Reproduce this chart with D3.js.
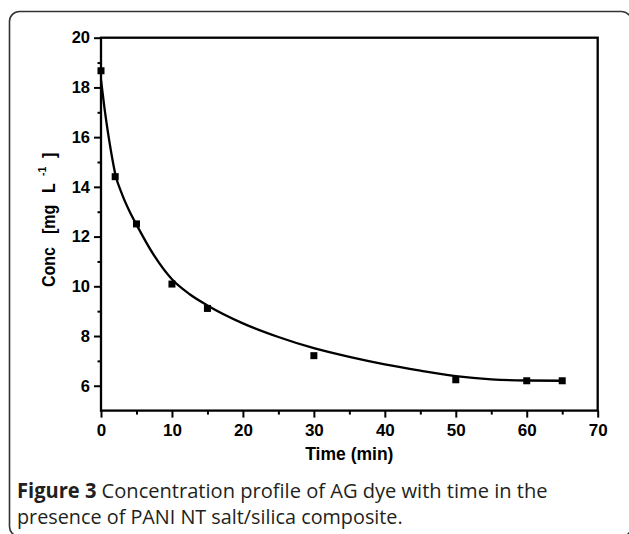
<!DOCTYPE html>
<html>
<head>
<meta charset="utf-8">
<script src="https://cdn.jsdelivr.net/npm/d3@7"></script>
<style>
  html, body { margin: 0; padding: 0; background: #fff; }
  svg { display: block; }
</style>
</head>
<body>
<script>
// ---- data ----
const timeMin = [0, 2, 5, 10, 15, 30, 50, 60, 65];
const concMeasured = [18.67, 14.41, 12.51, 10.09, 9.11, 7.21, 6.24, 6.20, 6.20];

const fitTime = [0, 0.5, 1, 1.5, 2, 3, 4, 5, 7.5, 10, 12.5, 15, 20, 25, 30, 35, 40, 45, 50, 55, 60, 65];
const fitConc = [18.3, 17.15, 16.15, 15.28, 14.53, 13.68, 13.03, 12.48, 11.23, 10.28, 9.68, 9.23, 8.51, 7.96, 7.51, 7.16, 6.86, 6.61, 6.39, 6.26, 6.21, 6.2];

const xMajorTicks = [0, 10, 20, 30, 40, 50, 60, 70];
const xMinorTicks = [5, 15, 25, 35, 45, 55, 65];
const yMajorTicks = [6, 8, 10, 12, 14, 16, 18, 20];
const yMinorTicks = [7, 9, 11, 13, 15, 17, 19];

const xLabel = "Time (min)";
const captionBold = "Figure 3";
const captionLine1 = " Concentration profile of AG dye with time in the";
const captionLine2 = "presence of PANI NT salt/silica composite.";

// ---- drawing ----
const W = 629, H = 534;
const svg = d3.select("body").append("svg").attr("width", W).attr("height", H);

// outer rounded frame
svg.append("rect")
  .attr("x", 9.5).attr("y", 11.5).attr("width", 622).attr("height", 525)
  .attr("rx", 10).attr("ry", 10)
  .attr("fill", "none").attr("stroke", "#333").attr("stroke-width", 1.6);

const x = d3.scaleLinear().domain([0, 70]).range([101, 597.7]);
const y = d3.scaleLinear().domain([5, 20]).range([410.6, 37.7]);

const font = "'Liberation Sans', Arial, sans-serif";

// y axis
const yAx = svg.append("g").attr("transform", `translate(${x(0)},0)`)
  .call(d3.axisLeft(y).tickValues(yMajorTicks).tickSize(7).tickSizeOuter(0).tickPadding(4));
yAx.select(".domain").remove();
yAx.selectAll("line").attr("stroke", "#000").attr("stroke-width", 2);
yAx.selectAll("text").attr("font-family", font).attr("font-weight", "bold")
  .attr("font-size", 16.5).attr("fill", "#000");
const yAxMinor = svg.append("g").attr("transform", `translate(${x(0)},0)`)
  .call(d3.axisLeft(y).tickValues(yMinorTicks).tickSize(3.5).tickSizeOuter(0).tickFormat(""));
yAxMinor.select(".domain").remove();
yAxMinor.selectAll("line").attr("stroke", "#000").attr("stroke-width", 2);

// x axis
const xAx = svg.append("g").attr("transform", `translate(0,${y(5)})`)
  .call(d3.axisBottom(x).tickValues(xMajorTicks).tickSize(7).tickSizeOuter(0).tickPadding(6));
xAx.select(".domain").remove();
xAx.selectAll("line").attr("stroke", "#000").attr("stroke-width", 2);
xAx.selectAll("text").attr("font-family", font).attr("font-weight", "bold")
  .attr("font-size", 17).attr("fill", "#000");
const xAxMinor = svg.append("g").attr("transform", `translate(0,${y(5)})`)
  .call(d3.axisBottom(x).tickValues(xMinorTicks).tickSize(4).tickSizeOuter(0).tickFormat(""));
xAxMinor.select(".domain").remove();
xAxMinor.selectAll("line").attr("stroke", "#000").attr("stroke-width", 2);

// plot frame
svg.append("rect")
  .attr("x", x(0)).attr("y", y(20))
  .attr("width", x(70) - x(0)).attr("height", y(5) - y(20))
  .attr("fill", "none").attr("stroke", "#000").attr("stroke-width", 2.3);

// fitted curve
const line = d3.line().x((d, i) => x(fitTime[i])).y(d => y(d)).curve(d3.curveMonotoneX);
svg.append("path").datum(fitConc)
  .attr("d", line).attr("fill", "none").attr("stroke", "#000").attr("stroke-width", 2.3);

// measured points
const ms = 7;
svg.append("g").selectAll("rect").data(concMeasured).join("rect")
  .attr("x", (d, i) => x(timeMin[i]) - ms / 2)
  .attr("y", d => y(d) - ms / 2)
  .attr("width", ms).attr("height", ms).attr("fill", "#000");

// x label
svg.append("text").attr("x", (x(0) + x(70)) / 2).attr("y", 460)
  .attr("text-anchor", "middle").attr("font-family", font).attr("font-weight", "bold")
  .attr("font-size", 17.5).attr("fill", "#000").text(xLabel);

// y label (rotated) with superscript
const yl = svg.append("text")
  .attr("transform", "translate(55,287) rotate(-90) scale(1,1.12)")
  .attr("font-family", font).attr("font-weight", "bold").attr("font-size", 16).attr("fill", "#000");
yl.append("tspan").attr("x", 0).attr("y", 0).text("Conc");
yl.append("tspan").attr("x", 53).attr("y", 0).text("[mg");
yl.append("tspan").attr("x", 94).attr("y", 0).text("L");
yl.append("tspan").attr("x", 111).attr("y", -8).attr("font-size", 10.5).text("-1");
yl.append("tspan").attr("x", 129).attr("y", 0).text("]");

// caption
const capFont = "'Open Sans', 'Noto Sans', sans-serif";
const cap1 = svg.append("text").attr("x", 0).attr("y", 0)
  .attr("font-family", capFont).attr("font-size", 20.5).attr("fill", "#231f20");
cap1.append("tspan").attr("font-weight", "bold").text(captionBold);
cap1.append("tspan").attr("font-weight", "normal").text(captionLine1);
const cap2 = svg.append("text").attr("x", 0).attr("y", 0)
  .attr("font-family", capFont).attr("font-size", 20.5).attr("fill", "#231f20")
  .text(captionLine2);

function fitWidth(sel, left, baseline, target) {
  const w = sel.node().getComputedTextLength();
  const s = target / w;
  sel.attr("transform", `translate(${left},${baseline}) scale(${s},1)`);
}
fitWidth(cap1, 17, 498, 531);
fitWidth(cap2, 17, 524, 386);
</script>
</body>
</html>
